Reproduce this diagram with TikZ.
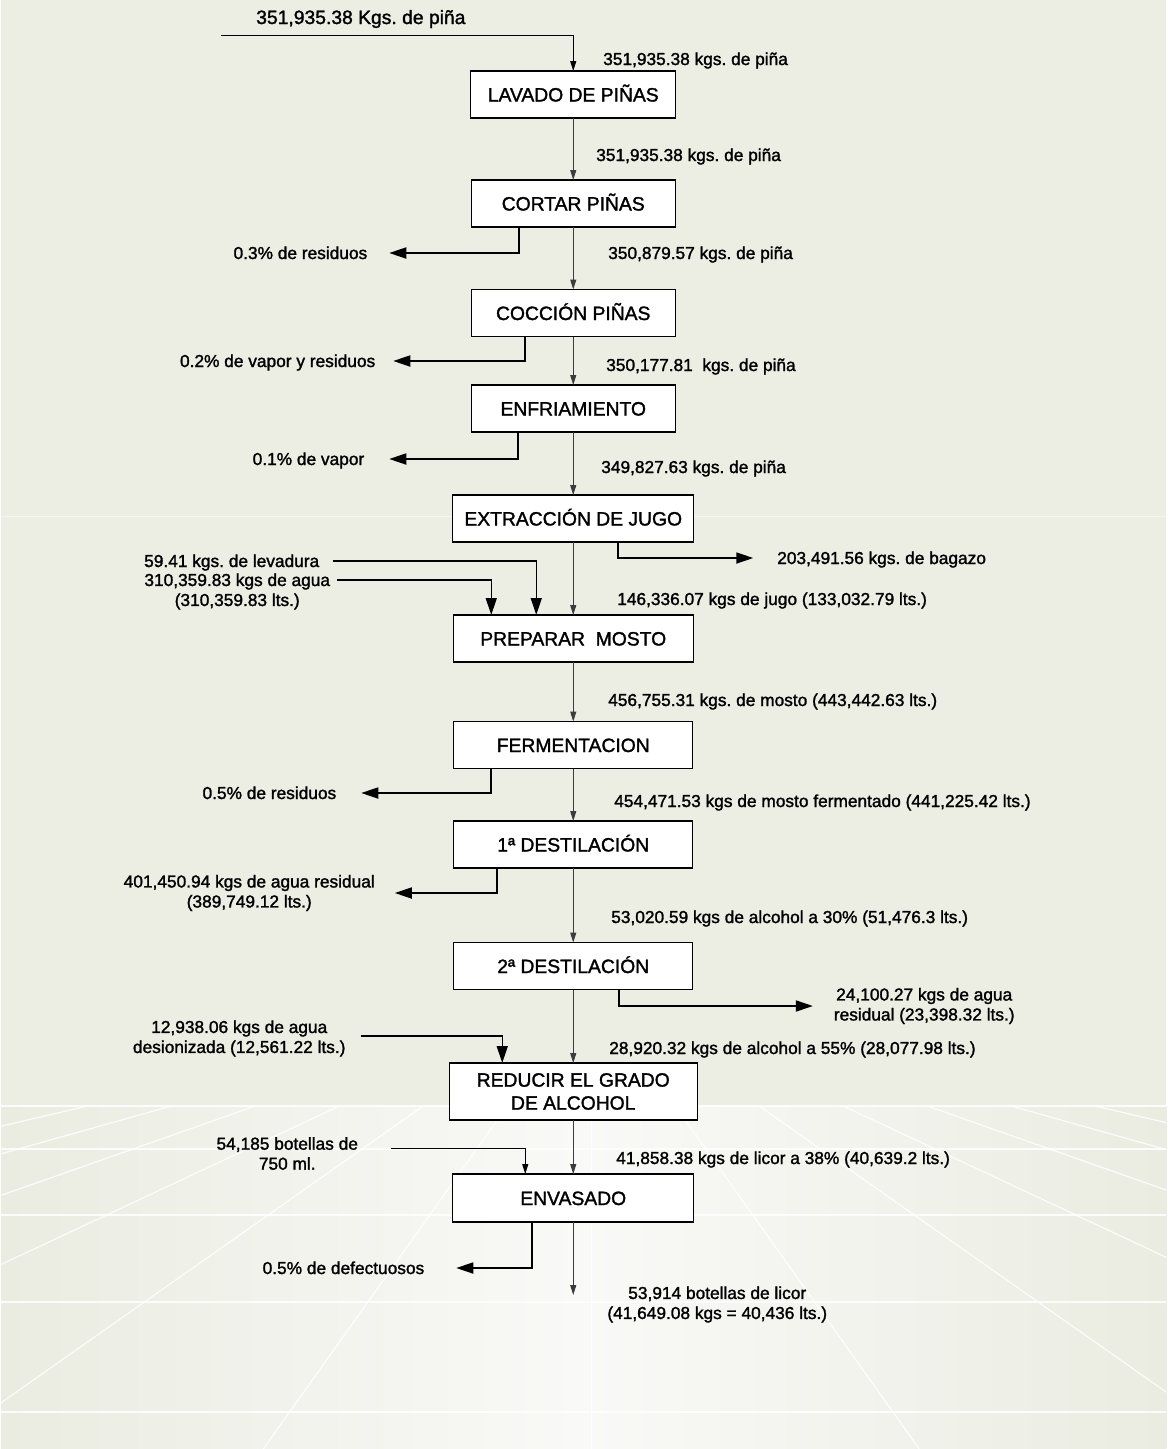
\documentclass[tikz,border=0pt]{standalone}
\usepackage{fontspec}
\setmainfont{Liberation Sans}[FakeBold=1.5]
\usetikzlibrary{arrows.meta}
\definecolor{bgtop}{RGB}{236,237,227}
\definecolor{bgside}{RGB}{234,236,225}
\definecolor{bgfloor}{RGB}{249,249,247}
\definecolor{flowgray}{RGB}{60,60,60}
\frenchspacing

\begin{document}
\begin{tikzpicture}[x=1pt,y=-1pt,
  every node/.style={inner sep=0pt, outer sep=0pt},
  procbox/.style={draw=black, line width=1.3pt, fill=white, align=center,
    font=\fontsize{19.3}{23}\selectfont},
  proc/.style={procbox, minimum height=47pt, text height=14pt, text depth=0pt},
  qty/.style={font=\fontsize{17.3}{20}\selectfont, text height=12.5pt, text depth=0.5pt},
  qtyml/.style={font=\fontsize{17.3}{20}\selectfont, align=center},
  qtybig/.style={font=\fontsize{19.3}{23}\selectfont, text height=14pt, text depth=0pt},
  flow/.style={draw=flowgray, line width=1pt, -{Triangle[length=10pt,width=6pt]}},
  feedthin/.style={draw=black, line width=1pt, -{Triangle[length=10pt,width=6pt]}},
  feed/.style={draw=black, line width=1.3pt, -{Triangle[length=17pt,width=11pt]}},
  side/.style={draw=black, line width=1.8pt, -{Triangle[length=17pt,width=11pt]}},
  floorline/.style={draw=white, line width=1.2pt, opacity=0.85}]

\fill[bgtop] (0,0) rectangle (1165,1449);
\draw[white, line width=1pt, opacity=0.5] (0,516) -- (1165,516);
\shade[left color=bgside, right color=bgside, middle color=bgfloor] (0,1106) rectangle (1165,1449);
\begin{scope}
\clip (0,1106) rectangle (1165,1449);
\foreach \k in {-7,...,7}
  \draw[floorline] ({590+84*\k},1106) -- ({590+328*\k},1449);
\end{scope}
\foreach \h in {1149,1215,1302,1412}
  \draw[floorline] (0,\h) -- (1165,\h);
\draw[floorline, line width=2.5pt] (0,1106) -- (1165,1106);
\useasboundingbox (0,0) rectangle (1165,1449);

\node[qtybig, anchor=west] (entrada) at (255,17) {351,935.38 Kgs. de piña};
\coordinate (in0) at (220,35);

\node[proc, minimum width=205pt] (lavado) at (572,94.5) {LAVADO DE PIÑAS};
\node[proc, minimum width=204pt] (cortar) at (572,203.5) {CORTAR PIÑAS};
\node[proc, minimum width=204pt] (coccion) at (572,313) {COCCIÓN PIÑAS};
\node[proc, minimum width=204pt] (enfriar) at (572,408.5) {ENFRIAMIENTO};
\node[proc, minimum width=241pt] (extraer) at (572,518.5) {EXTRACCIÓN DE JUGO};
\node[proc, minimum width=240pt] (mosto) at (572,638.5) {PREPARAR~ MOSTO};
\node[proc, minimum width=239pt] (fermentar) at (572,745) {FERMENTACION};
\node[proc, minimum width=239pt] (destila1) at (572,844.5) {1ª DESTILACIÓN};
\node[proc, minimum width=239pt] (destila2) at (572,966) {2ª DESTILACIÓN};
\node[procbox, minimum width=248pt, minimum height=57pt] (reducir) at (572,1091.5) {REDUCIR EL GRADO\\DE ALCOHOL};
\node[proc, minimum width=241pt, minimum height=48pt] (envasado) at (572,1198) {ENVASADO};
\coordinate (fin) at (572,1295);

\node[qty, anchor=west] (l1) at (602,59) {351,935.38 kgs. de piña};
\node[qty, anchor=west] (l2) at (595,155) {351,935.38 kgs. de piña};
\node[qty, anchor=west] (l3) at (607,253) {350,879.57 kgs. de piña};
\node[qty, anchor=west] (l4) at (605,365) {350,177.81~ kgs. de piña};
\node[qty, anchor=west] (l5) at (600,467) {349,827.63 kgs. de piña};
\node[qty, anchor=west] (l6) at (616,599) {146,336.07 kgs de jugo (133,032.79 lts.)};
\node[qty, anchor=west] (l7) at (607,700) {456,755.31 kgs. de mosto (443,442.63 lts.)};
\node[qty, anchor=west] (l8) at (613,801) {454,471.53 kgs de mosto fermentado (441,225.42 lts.)};
\node[qty, anchor=west] (l9) at (610,917) {53,020.59 kgs de alcohol a 30\% (51,476.3 lts.)};
\node[qty, anchor=west] (l10) at (608,1048) {28,920.32 kgs de alcohol a 55\% (28,077.98 lts.)};
\node[qty, anchor=west] (l11) at (615,1158) {41,858.38 kgs de licor a 38\% (40,639.2 lts.)};
\node[qtyml] (lfin) at (716,1304.5) {53,914 botellas de licor\\(41,649.08 kgs = 40,436 lts.)};

\node[qty, anchor=east] (res1) at (366,253) {0.3\% de residuos};
\node[qty, anchor=east] (res2) at (374,361) {0.2\% de vapor y residuos};
\node[qty, anchor=east] (res3) at (363,459) {0.1\% de vapor};
\node[qty, anchor=east] (res4) at (335,793) {0.5\% de residuos};
\node[qtyml] (res5) at (248,893) {401,450.94 kgs de agua residual\\(389,749.12 lts.)};
\node[qty, anchor=east] (res6) at (423,1268) {0.5\% de defectuosos};
\node[qty, anchor=west] (bagazo) at (776,558) {203,491.56 kgs. de bagazo};
\node[qtyml] (agres) at (923,1006) {24,100.27 kgs de agua\\residual (23,398.32 lts.)};

\node[qty, anchor=east] (levadura) at (318,561) {59.41 kgs. de levadura};
\node[qtyml] (agua) at (236,591.5) {310,359.83 kgs de agua\\(310,359.83 lts.)};
\node[qtyml] (desion) at (238,1038.5) {12,938.06 kgs de agua\\desionizada (12,561.22 lts.)};
\node[qtyml] (botellas) at (286,1153.5) {54,185 botellas de\\750 ml.};

\draw[feedthin] (in0) -| (lavado.north);
\draw[flow] (lavado) -- (cortar);
\draw[flow] (cortar) -- (coccion);
\draw[flow] (coccion) -- (enfriar);
\draw[flow] (enfriar) -- (extraer);
\draw[flow] (extraer) -- (mosto);
\draw[flow] (mosto) -- (fermentar);
\draw[flow] (fermentar) -- (destila1);
\draw[flow] (destila1) -- (destila2);
\draw[flow] (destila2) -- (reducir);
\draw[flow] (reducir) -- (envasado);
\draw[flow] (envasado) -- (fin);

\draw[side, shorten >=22pt] ([xshift=-54pt]cortar.south) |- (res1.east);
\draw[side, shorten >=18pt] ([xshift=-48pt]coccion.south) |- (res2.east);
\draw[side, shorten >=25pt] ([xshift=-55pt]enfriar.south) |- (res3.east);
\draw[side, shorten >=24pt] ([xshift=45pt]extraer.south) |- (bagazo.west);
\draw[side, shorten >=25pt] ([xshift=-82pt]fermentar.south) |- (res4.east);
\draw[side, shorten >=20pt] ([xshift=-76pt]destila1.south) |- (res5.east);
\draw[side, shorten >=21pt] ([xshift=46pt]destila2.south) |- (agres.west);
\draw[side, shorten >=32pt] ([xshift=-41pt]envasado.south) |- (res6.east);

\draw[feed] ([xshift=14pt]levadura.east) -| ([xshift=-37pt]mosto.north);
\draw[feed] ([xshift=7pt,yshift=11.5pt]agua.east) -| ([xshift=-82pt]mosto.north);
\draw[feed] ([xshift=15pt,yshift=2.5pt]desion.east) -| ([xshift=-71pt]reducir.north);
\draw[feedthin] ([xshift=33pt,yshift=5.5pt]botellas.east) -| ([xshift=-48pt]envasado.north);
\end{tikzpicture}
\end{document}
